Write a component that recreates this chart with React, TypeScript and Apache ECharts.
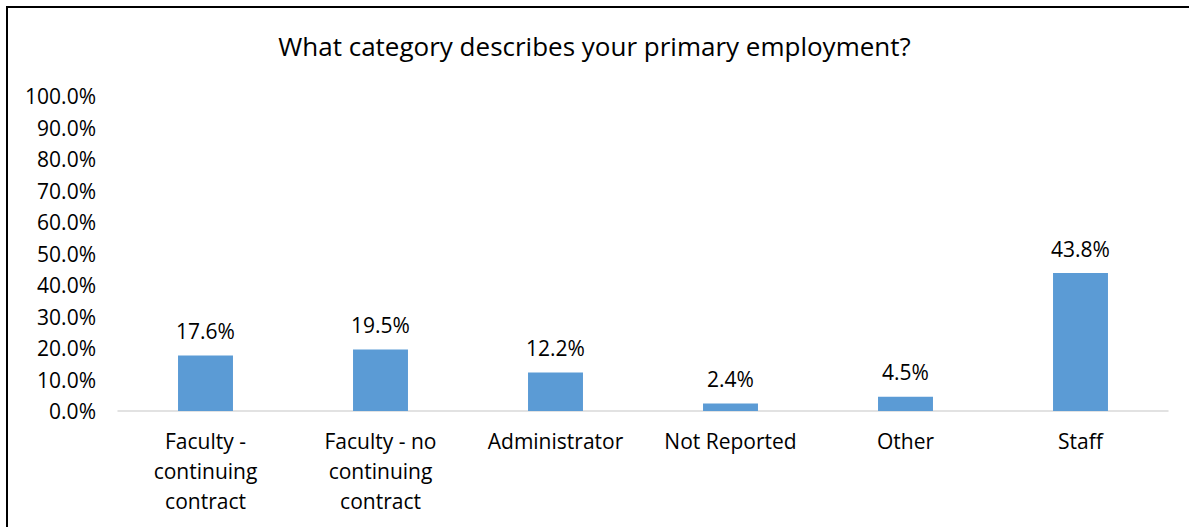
import React, { useEffect, useRef } from "react";
import * as echarts from "echarts";

const titleText = "What category describes your primary employment?";
const categories = [
  "Faculty -\ncontinuing\ncontract",
  "Faculty - no\ncontinuing\ncontract",
  "Administrator",
  "Not Reported",
  "Other",
  "Staff",
];
const values = [17.6, 19.5, 12.2, 2.4, 4.5, 43.8];
const yMin = 0;
const yMax = 100;
const yStep = 10;

const FONT = "'Open Sans', 'Noto Sans', sans-serif";

export default function App() {
  const ref = useRef<HTMLDivElement>(null);
  useEffect(() => {
    if (!ref.current) return;
    const chart = echarts.init(ref.current, undefined, { renderer: "svg" });
    chart.setOption({
      animation: false,
      backgroundColor: "#ffffff",
      title: {
        text: titleText,
        left: "center",
        top: 28,
        textStyle: { fontFamily: FONT, fontSize: 26, fontWeight: "normal", color: "#000" },
      },
      graphic: [
        {
          type: "polyline",
          shape: { points: [[7, 540], [7, 7], [1195, 7]] },
          style: { stroke: "#000", lineWidth: 2, fill: "none" },
        },
      ],
      grid: { left: 118, right: 21, top: 96, bottom: 116, containLabel: false },
      xAxis: {
        type: "category",
        data: categories,
        axisLine: { show: true, lineStyle: { color: "#D9D9D9", width: 1.5 } },
        axisTick: { show: false },
        axisLabel: {
          interval: 0,
          margin: 15,
          fontFamily: FONT,
          fontSize: 21,
          color: "#000",
          lineHeight: 30,
        },
      },
      yAxis: {
        type: "value",
        min: yMin,
        max: yMax,
        interval: yStep,
        splitLine: { show: false },
        axisLine: { show: false },
        axisTick: { show: false },
        axisLabel: {
          margin: 22,
          fontFamily: FONT,
          fontSize: 21,
          color: "#000",
          formatter: (v: number) => v.toFixed(1) + "%",
        },
      },
      series: [
        {
          type: "bar",
          data: values,
          barWidth: "31.4%",
          itemStyle: { color: "#5B9BD5" },
          label: {
            show: true,
            position: "top",
            distance: 14,
            fontFamily: FONT,
            fontSize: 21,
            color: "#000",
            formatter: (p: any) => p.value.toFixed(1) + "%",
          },
        },
      ],
    });
    return () => chart.dispose();
  }, []);
  return (
    <div
      ref={ref}
      style={{ position: "absolute", left: 0, top: 0, width: 1189, height: 527 }}
    />
  );
}
